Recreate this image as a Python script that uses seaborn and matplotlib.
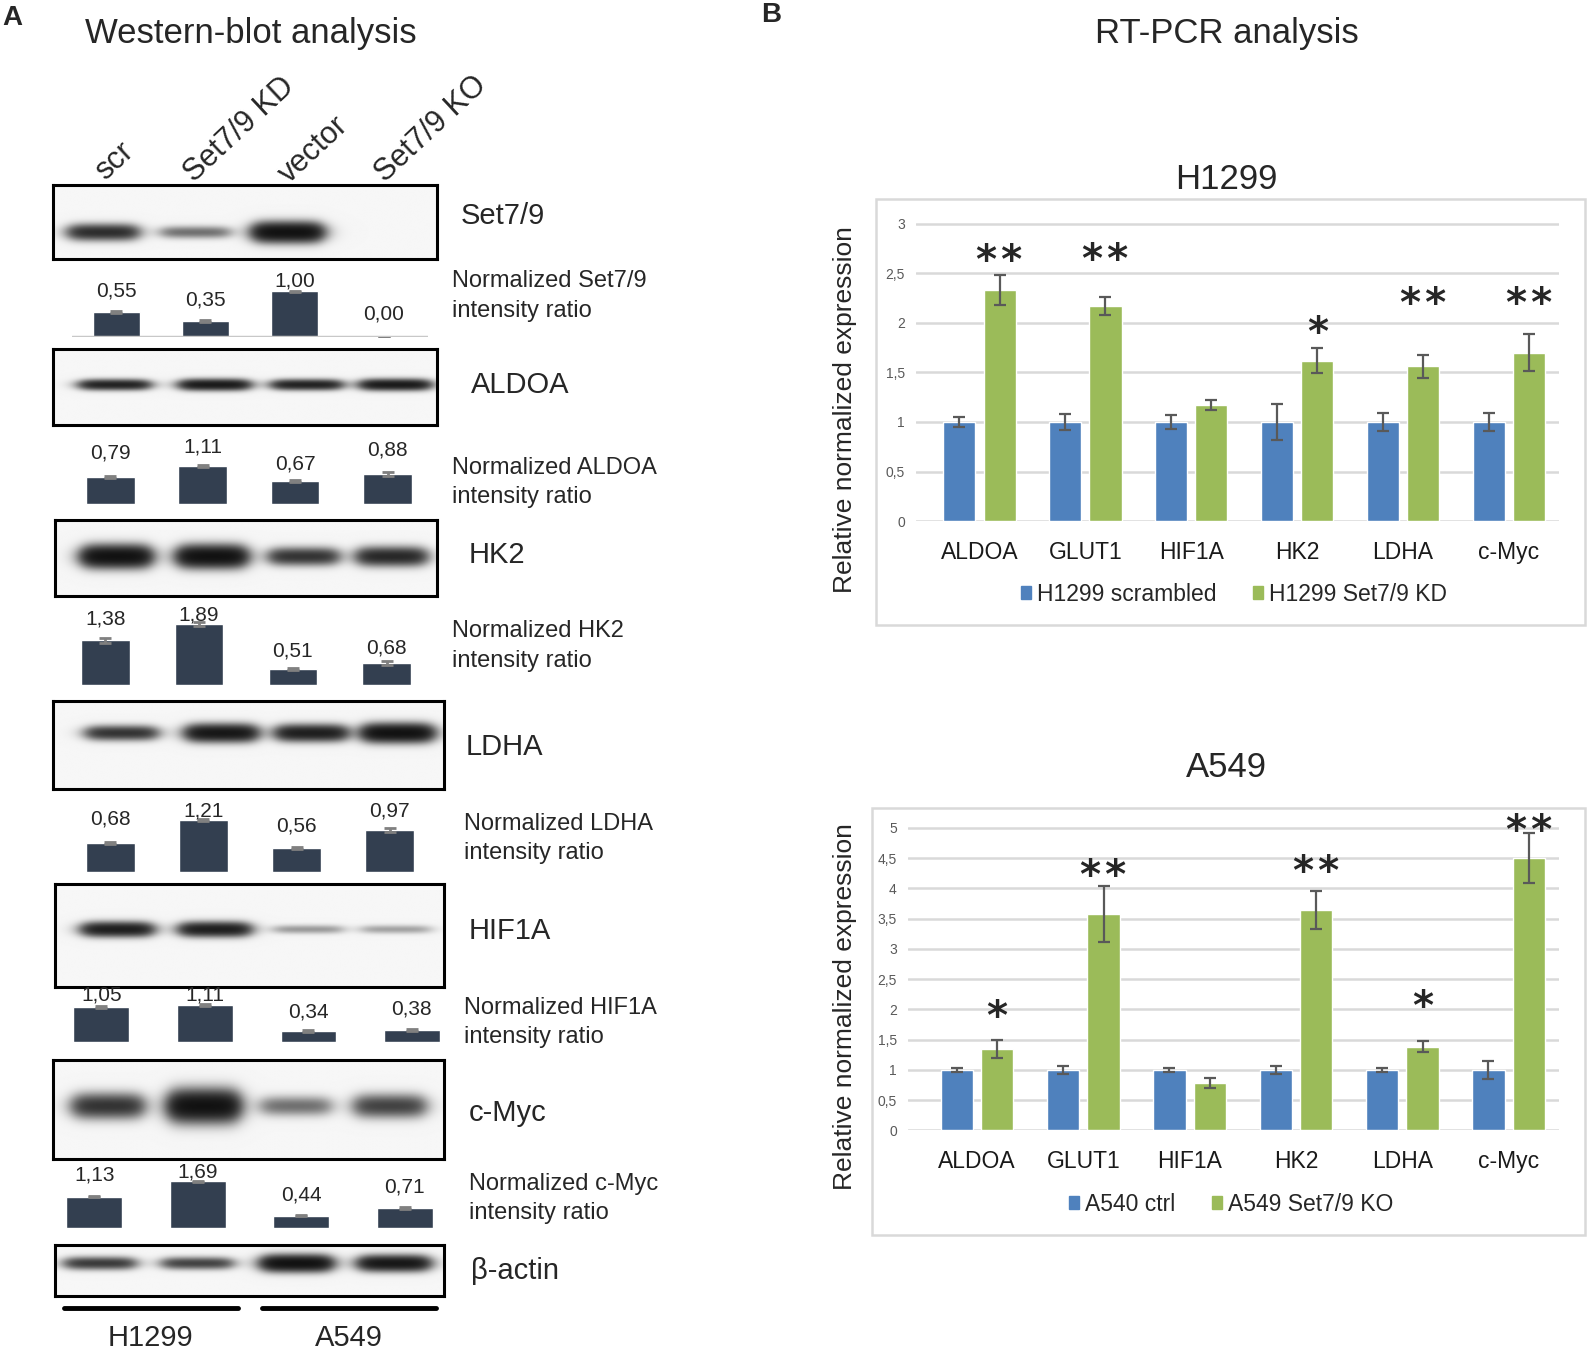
import numpy as np
import pandas as pd
import matplotlib.pyplot as plt
import seaborn as sns
from matplotlib.patches import Patch, Rectangle
from matplotlib.lines import Line2D

# ---------------- data ----------------
lanes = ['scr', 'Set7/9 KD', 'vector', 'Set7/9 KO']

# band darkness per lane read off the blots (0 = no band, 1 = saturated)
band_set79 = [0.65, 0.30, 1.00, 0.00]
band_aldoa = [0.75, 0.85, 0.75, 0.85]
band_hk2 = [1.00, 1.00, 0.60, 0.70]
band_ldha = [0.60, 0.90, 0.80, 1.00]
band_hif1a = [0.80, 0.80, 0.18, 0.16]
band_cmyc = [0.60, 1.00, 0.30, 0.50]
band_actin = [0.55, 0.50, 1.00, 0.90]

# normalized intensity ratios (western blot quantification)
ratio_set79 = [0.55, 0.35, 1.00, 0.00]
err_set79 = [0.02, 0.02, 0.02, 0.00]
ratio_aldoa = [0.79, 1.11, 0.67, 0.88]
err_aldoa = [0.03, 0.03, 0.03, 0.06]
ratio_hk2 = [1.38, 1.89, 0.51, 0.68]
err_hk2 = [0.07, 0.05, 0.03, 0.05]
ratio_ldha = [0.68, 1.21, 0.56, 0.97]
err_ldha = [0.02, 0.02, 0.02, 0.04]
ratio_hif1a = [1.05, 1.11, 0.34, 0.38]
err_hif1a = [0.03, 0.03, 0.03, 0.03]
ratio_cmyc = [1.13, 1.69, 0.44, 0.71]
err_cmyc = [0.03, 0.03, 0.03, 0.03]

# RT-PCR
genes = ['ALDOA', 'GLUT1', 'HIF1A', 'HK2', 'LDHA', 'c-Myc']
h1299_ctrl = [1.0, 1.0, 1.0, 1.0, 1.0, 1.0]
h1299_ctrl_err = [0.05, 0.08, 0.07, 0.18, 0.09, 0.09]
h1299_kd = [2.33, 2.17, 1.17, 1.62, 1.56, 1.70]
h1299_kd_err = [0.15, 0.09, 0.05, 0.13, 0.12, 0.19]
h1299_sig = ['**', '**', '', '*', '**', '**']

a549_ctrl = [1.0, 1.0, 1.0, 1.0, 1.0, 1.0]
a549_ctrl_err = [0.03, 0.07, 0.03, 0.07, 0.03, 0.15]
a549_ko = [1.35, 3.58, 0.78, 3.64, 1.38, 4.50]
a549_ko_err = [0.15, 0.46, 0.08, 0.31, 0.09, 0.41]
a549_sig = ['*', '**', '', '**', '*', '**']

# ---------------- style ----------------
sns.set_theme(style='white')
plt.rcParams['font.family'] = ['Liberation Sans', 'DejaVu Sans']

DARK = '#333f50'
BLUE = '#4f81bd'
GREEN = '#9bbb59'
GRID = '#d9d9d9'

W, H = 1568, 1336  # layout grid in reference pixels
fig = plt.figure(figsize=(15.87, 13.52), dpi=100)


def rect(x0, y0, x1, y1):
    return [x0 / W, 1 - y1 / H, (x1 - x0) / W, (y1 - y0) / H]


def ftext(x, y, s, **kw):
    fig.text(x / W, 1 - y / H, s, **kw)


def draw_blot(r, bands, lane_x, band_y, th):
    ax = fig.add_axes(rect(*r))
    X, Y = np.meshgrid(np.linspace(0, 1, 500), np.linspace(0, 1, 140))
    dens = np.zeros_like(X)
    for c, v in zip(lane_x, bands):
        t = th * (0.5 + 0.6 * v)
        px = 1 / (1 + np.exp(-(0.085 - np.abs(X - c)) / 0.013))
        py = np.exp(-((Y - band_y) / t) ** 2)
        dens += 2.6 * v * px * py
    img = 0.035 + 0.965 * (1 - np.exp(-dens))
    ax.imshow(img, cmap='gray_r', vmin=0, vmax=1, aspect='auto', extent=[0, 1, 1, 0])
    ax.set_xticks([])
    ax.set_yticks([])
    for s in ax.spines.values():
        s.set_visible(True)
        s.set_color('black')
        s.set_linewidth(2.2)
    return ax


def draw_ratio(centers, bar_px, base, ppu, vals, errs, offs, baseline=False):
    sp = (centers[-1] - centers[0]) / 3
    top = 75
    ax = fig.add_axes(rect(centers[0] - sp / 2, base - top, centers[-1] + sp / 2, base))
    df = pd.DataFrame({'lane': lanes, 'ratio': vals})
    sns.barplot(data=df, x='lane', y='ratio', color=DARK, saturation=1,
                width=bar_px / sp, errorbar=None, ax=ax)
    ax.errorbar(range(4), vals, yerr=errs, fmt='none', ecolor='#808080',
                elinewidth=2, capsize=4, capthick=2)
    ax.set_xlim(-0.5, 3.5)
    ax.set_ylim(0, top / ppu)
    ax.axis('off')
    if baseline:
        ax.axhline(0, color='#c8c8c8', lw=2.5)
    for i, v in enumerate(vals):
        ax.annotate(f'{v:.2f}'.replace('.', ','), (i, v), xytext=(0, offs[i] * 0.73),
                    textcoords='offset points', ha='center', va='center', fontsize=15)
    return ax


# ---------------- panel A ----------------
ftext(2, 18, 'A', fontsize=20, fontweight='bold', va='center')
ftext(248, 33, 'Western-blot analysis', fontsize=25, ha='center', va='center')

lane_anchor = [(104, 179), (192, 181), (285, 182), (380, 181)]
for (x, y), name in zip(lane_anchor, lanes):
    ftext(x, y, name, fontsize=22, rotation=43, rotation_mode='anchor',
          ha='left', va='baseline')

blots = [
    (band_set79, (52, 183, 432, 256), [0.13, 0.37, 0.61, 0.86], 0.64, 0.11, (455, 213)),
    (band_aldoa, (52, 345, 432, 420), [0.16, 0.42, 0.66, 0.89], 0.47, 0.065, (465, 380)),
    (band_hk2, (54, 514, 432, 589), [0.16, 0.41, 0.65, 0.88], 0.48, 0.12, (463, 548)),
    (band_ldha, (52, 693, 439, 780), [0.175, 0.43, 0.66, 0.88], 0.37, 0.085, (460, 738)),
    (band_hif1a, (54, 874, 439, 975), [0.16, 0.41, 0.65, 0.875], 0.44, 0.065, (463, 920)),
    (band_cmyc, (52, 1047, 439, 1145), [0.14, 0.385, 0.62, 0.86], 0.47, 0.13, (463, 1100)),
    (band_actin, (54, 1230, 439, 1281), [0.115, 0.365, 0.62, 0.87], 0.37, 0.13, (465, 1256)),
]
blot_names = ['Set7/9', 'ALDOA', 'HK2', 'LDHA', 'HIF1A', 'c-Myc', 'β-actin']
for (bands, r, lx, by, th, (tx, ty)), name in zip(blots, blot_names):
    draw_blot(r, bands, lx, by, th)
    ftext(tx, ty, name, fontsize=21, va='center')

ratios = [
    (ratio_set79, err_set79, [115, 203, 291, 379], 46, 333, 45, [21, 21, 10, 23], True, (447, 278), 'Set7/9'),
    (ratio_aldoa, err_aldoa, [109, 201, 292, 383], 48, 498, 34, [23, 19, 17, 23], False, (447, 462), 'ALDOA'),
    (ratio_hk2, err_hk2, [104, 196, 288, 382], 48, 677, 32, [21, 9, 17, 15], False, (447, 624), 'HK2'),
    (ratio_ldha, err_ldha, [109, 201, 293, 385], 49, 862, 43, [23, 9, 22, 19], False, (458, 814), 'LDHA'),
    (ratio_hif1a, err_hif1a, [100, 202, 304, 407], 55, 1030, 33, [12, 10, 19, 20], False, (458, 996), 'HIF1A'),
    (ratio_cmyc, err_cmyc, [93, 196, 299, 400], 55, 1213, 27, [21, 9, 20, 21], False, (463, 1170), 'c-Myc'),
]
for vals, errs, cx, bw, base, ppu, offs, bl, (tx, ty), name in ratios:
    draw_ratio(cx, bw, base, ppu, vals, errs, offs, baseline=bl)
    ftext(tx, ty, f'Normalized {name}', fontsize=17, va='center')
    ftext(tx, ty + 29, 'intensity ratio', fontsize=17, va='center')

for x0, x1, name in [(63, 235, 'H1299'), (259, 431, 'A549')]:
    fig.add_artist(Line2D([x0 / W, x1 / W], [1 - 1293 / H] * 2, color='black', lw=3.5))
    ftext((x0 + x1) / 2, 1322, name, fontsize=21, ha='center', va='center')


# ---------------- panel B ----------------
ftext(762, 15, 'B', fontsize=20, fontweight='bold', va='center', ha='center')
ftext(1212, 33, 'RT-PCR analysis', fontsize=25, ha='center', va='center')


def draw_pcr(r, xlim, ymax, step, ctrl, ctrl_err, trt, trt_err, sig, star_y, names):
    ax = fig.add_axes(rect(*r))
    df = pd.DataFrame({'gene': genes * 2, 'value': ctrl + trt,
                       'group': [names[0]] * 6 + [names[1]] * 6})
    sns.barplot(data=df, x='gene', y='value', hue='group', palette=[BLUE, GREEN],
                saturation=1, width=0.76, gap=0.2, errorbar=None, legend=False,
                ax=ax, zorder=3)
    xs = np.arange(len(genes))
    for off, v, e in [(-0.19, ctrl, ctrl_err), (0.19, trt, trt_err)]:
        ax.errorbar(xs + off, v, yerr=e, fmt='none', ecolor='#595959',
                    elinewidth=1.6, capsize=4, capthick=1.6, zorder=4)
    for i, s in enumerate(sig):
        if s:
            ax.text(i + 0.19, star_y[i], s.replace('**', '*\u200a*'), ha='center',
                    va='center', fontsize=29, fontweight='bold', family='DejaVu Sans',
                    clip_on=False)
    ax.set_xlim(*xlim)
    ax.set_ylim(0, ymax * 1.01)
    ticks = np.arange(0, ymax + 0.01, step)
    ax.set_yticks(ticks)
    ax.set_yticklabels([f'{t:g}'.replace('.', ',') for t in ticks])
    ax.yaxis.grid(True, color=GRID, lw=1.8)
    ax.set_axisbelow(True)
    for s in ax.spines.values():
        s.set_visible(False)
    ax.tick_params(axis='y', length=0, labelsize=10, labelcolor='#595959', pad=8)
    ax.tick_params(axis='x', length=0, labelsize=16.5, labelcolor='#1a1a1a', pad=14)
    ax.set_xlabel('')
    ax.set_ylabel('')
    return ax


# H1299
ftext(1212, 177, 'H1299', fontsize=25, ha='center', va='center')
fig.add_artist(Rectangle((866 / W, 1 - 618 / H), (1566 - 866) / W, (618 - 197) / H,
                         transform=fig.transFigure, fill=False, edgecolor=GRID, lw=1.8))
draw_pcr((905, 515 - 3.03 * 98, 1540, 515), (-0.60, 5.47), 3, 0.5,
         h1299_ctrl, h1299_ctrl_err, h1299_kd, h1299_kd_err, h1299_sig,
         [2.61, 2.62, 0, 1.89, 2.18, 2.18], ['H1299 scrambled', 'H1299 Set7/9 KD'])
ftext(835, 405, 'Relative normalized expression', rotation=90, fontsize=19,
      ha='center', va='center')
fig.legend(handles=[Patch(color=BLUE, label='H1299 scrambled'),
                    Patch(color=GREEN, label='H1299 Set7/9 KD')],
           loc='center', bbox_to_anchor=(1219 / W, 1 - 587 / H), ncol=2, frameon=False,
           fontsize=16.5, handlelength=0.45, handleheight=0.45, handletextpad=0.25,
           columnspacing=1.6)

# A549
ftext(1212, 758, 'A549', fontsize=25, ha='center', va='center')
fig.add_artist(Rectangle((862 / W, 1 - 1220 / H), (1566 - 862) / W, (1220 - 798) / H,
                         transform=fig.transFigure, fill=False, edgecolor=GRID, lw=1.8))
draw_pcr((897, 1117 - 5.05 * 59.8, 1540, 1117), (-0.65, 5.47), 5, 0.5,
         a549_ctrl, a549_ctrl_err, a549_ko, a549_ko_err, a549_sig,
         [1.86, 4.18, 0, 4.26, 2.03, 4.93], ['A540 ctrl', 'A549 Set7/9 KO'])
ftext(835, 995, 'Relative normalized expression', rotation=90, fontsize=19,
      ha='center', va='center')
fig.legend(handles=[Patch(color=BLUE, label='A540 ctrl'),
                    Patch(color=GREEN, label='A549 Set7/9 KO')],
           loc='center', bbox_to_anchor=(1216 / W, 1 - 1190 / H), ncol=2, frameon=False,
           fontsize=16.5, handlelength=0.45, handleheight=0.45, handletextpad=0.25,
           columnspacing=1.6)

fig.savefig('out.png', dpi=100, facecolor='white')
